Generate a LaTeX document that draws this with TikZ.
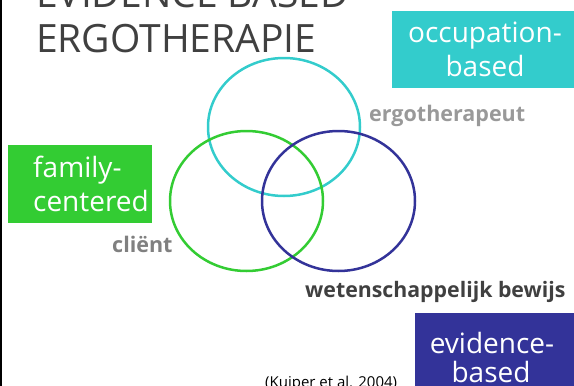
\documentclass[tikz,border=0pt]{standalone}
\usepackage{fontspec}
\setmainfont{Open Sans}
\definecolor{teal1}{HTML}{33CCCC}
\definecolor{green1}{HTML}{33CC33}
\definecolor{navy1}{HTML}{333399}
\definecolor{title1}{HTML}{404040}
\definecolor{grey1}{HTML}{999999}
\definecolor{grey2}{HTML}{808080}
\begin{document}
\begin{tikzpicture}[x=1pt,y=-1pt,
  boxnode/.style={draw=none,inner sep=0pt,anchor=north west},
  boxtext/.style={text=white,inner sep=0pt,font=\fontsize{28}{34}\selectfont},
  ring/.style={line width=2.5pt},
  lbl/.style={inner sep=0pt,anchor=base west,font=\bfseries\fontsize{21.5}{25}\selectfont}]
\useasboundingbox (0,0) rectangle (574,386);
\clip (0,0) rectangle (574,386);
\fill[black] (0,0) rectangle (2,386);
% title
\node[inner sep=0pt,anchor=base west,text=title1,font=\fontsize{39}{47}\selectfont] (t1) at (36,7) {EVIDENCE BASED};
\node[inner sep=0pt,anchor=base west,text=title1,font=\fontsize{39}{47}\selectfont] (t2) at (36,52) {ERGOTHERAPIE};
% boxes
\node[boxnode,fill=teal1,minimum width=182pt,minimum height=77pt] (ob) at (392,11) {};
\node[boxtext,anchor=base] (ob1) at (485,42) {occupation-};
\node[boxtext,anchor=base] (ob2) at (485,76) {based};
\node[boxnode,fill=green1,minimum width=144pt,minimum height=78pt] (fb) at (8,145) {};
\node[boxtext,anchor=base west] (fb1) at (33,177) {family-};
\node[boxtext,anchor=base west] (fb2) at (33,211) {centered};
\node[boxnode,fill=navy1,minimum width=159pt,minimum height=90pt] (eb) at (415,313) {};
\node[boxtext,anchor=base] (eb1) at (492,353) {evidence-};
\node[boxtext,anchor=base] (eb2) at (491,382) {based};
% circles
\draw[ring,teal1] (284,127) ellipse [x radius=76pt, y radius=69pt];
\draw[ring,green1] (246.5,201) ellipse [x radius=76.5pt, y radius=70pt];
\draw[ring,navy1] (338.5,201) ellipse [x radius=76.5pt, y radius=70pt];
% labels
\node[lbl,text=grey1] (l1) at (369,121) {ergotherapeut};
\node[lbl,text=grey2] (l2) at (112,252) {cliënt};
\node[lbl,text=title1,font=\bfseries\fontsize{21.3}{25}\selectfont] (l3) at (305,297) {wetenschappelijk bewijs};
\node[inner sep=0pt,anchor=base west,font=\fontsize{15}{18}\selectfont] (ref) at (265,387) {(Kuiper et al. 2004)};
\end{tikzpicture}
\end{document}
